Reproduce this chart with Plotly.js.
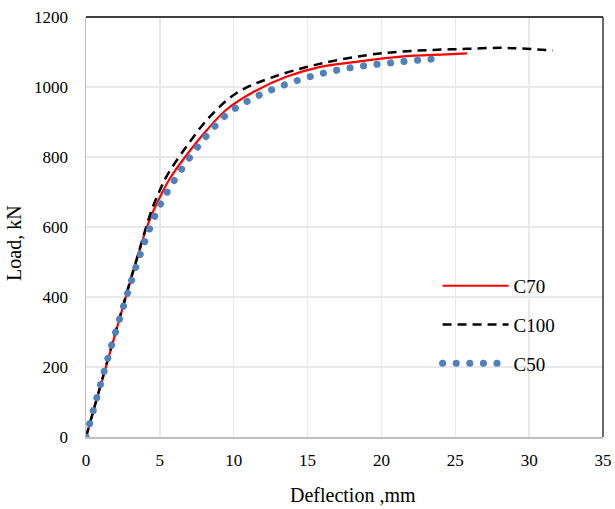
<!DOCTYPE html>
<html>
<head>
<meta charset="utf-8">
<script src="https://cdn.plot.ly/plotly-3.0.1.min.js"></script>
<style>
  body { margin: 0; background: #fff; }
  #plotdiv { width: 615px; height: 509px; }
  /* Excel style round dots for the C50 curve */
  .scatterlayer .trace:nth-of-type(3) path.js-line,
  .legend .groups:nth-of-type(3) path.js-line,
  .legend .traces:nth-of-type(3) path.js-line { stroke-linecap: round; }
</style>
</head>
<body>
<div id="plotdiv"></div>
<script>
// C70 (red solid)
var c70_x = [0, 1, 2, 3, 3.5, 4, 4.5, 5, 5.7, 6.8, 8.2, 9.5, 11.3, 13.6, 15.8, 18.3, 21.3, 24.4, 25.8];
var c70_y = [0, 148, 297, 445, 515, 585, 640, 685, 740, 805, 878, 935, 985, 1030, 1057, 1072, 1087, 1093, 1096];

// C100 (black dashed)
var c100_x = [0, 1, 2, 3, 3.5, 4, 4.5, 5, 5.5, 6.8, 8.4, 10.2, 12.5, 15.6, 19, 21.3, 23.5, 25.8, 28, 29.5, 31.6];
var c100_y = [0, 150, 300, 447, 518, 590, 655, 705, 748, 830, 916, 983, 1026, 1064, 1091, 1101, 1106, 1109, 1112, 1110, 1104];

// C50 (blue dotted)
var c50_x = [0, 0.5, 1.04, 1.6, 2.19, 2.8, 3.43, 4.11, 4.9, 5.87, 7.0, 8.21, 9.57, 11.22, 12.93, 14.71, 16.52, 18.37, 20.2, 22.05, 24.1];
var c50_y = [0, 77, 159, 243, 326, 409, 492, 573, 654, 726, 797, 863, 923, 966, 998, 1024, 1044, 1058, 1067, 1075, 1082];

var serif = 'Liberation Serif, Times New Roman, serif';

var data = [
    {
        x: c70_x, y: c70_y, name: 'C70', legendgroup: 'a',
        mode: 'lines', type: 'scatter',
        line: {color: '#ff0000', width: 2.2, shape: 'spline'}
    },
    {
        x: c100_x, y: c100_y, name: 'C100', legendgroup: 'b',
        mode: 'lines', type: 'scatter',
        line: {color: '#000000', width: 2.5, dash: '9px,6px', shape: 'spline'}
    },
    {
        x: c50_x, y: c50_y, name: 'C50', legendgroup: 'c',
        mode: 'lines', type: 'scatter',
        line: {color: '#4f81bd', width: 7, dash: '0.1px,13.5px', shape: 'spline'}
    }
];

var layout = {
    width: 615,
    height: 509,
    margin: {l: 86, r: 12, t: 17, b: 72},
    paper_bgcolor: '#ffffff',
    plot_bgcolor: '#ffffff',
    font: {family: serif, size: 17, color: '#000000'},
    showlegend: true,
    legend: {
        x: 0.68, y: 0.405, xanchor: 'left', yanchor: 'top',
        traceorder: 'grouped', tracegroupgap: 11,
        itemwidth: 66,
        bgcolor: 'rgba(0,0,0,0)',
        font: {family: serif, size: 19, color: '#000000'}
    },
    xaxis: {
        range: [0, 35], dtick: 5, tick0: 0,
        showgrid: true, gridcolor: '#e8e8e8', gridwidth: 1.5,
        zeroline: false,
        showline: true, linecolor: '#bfbfbf', linewidth: 1.5,
        ticks: '', ticklabelstandoff: 7,
        tickfont: {family: serif, size: 17, color: '#000000'}
    },
    yaxis: {
        range: [0, 1200], dtick: 200, tick0: 0,
        showgrid: true, gridcolor: '#e8e8e8', gridwidth: 1.5,
        zeroline: false,
        showline: true, linecolor: '#bfbfbf', linewidth: 1.5,
        ticks: '', ticklabelstandoff: 13,
        tickfont: {family: serif, size: 17, color: '#000000'}
    },
    annotations: [
        {text: 'Deflection ,mm', xref: 'paper', yref: 'paper', x: 0.516, y: -0.137,
         xanchor: 'center', yanchor: 'middle', showarrow: false,
         font: {family: serif, size: 20, color: '#000000'}},
        {text: 'Load, kN', xref: 'paper', yref: 'paper', x: -0.139, y: 0.4625,
         xanchor: 'center', yanchor: 'middle', showarrow: false, textangle: -90,
         font: {family: serif, size: 20, color: '#000000'}}
    ],
    shapes: [
        {type: 'line', xref: 'paper', yref: 'paper', x0: 0, x1: 1, y0: 1, y1: 1,
         line: {color: '#000000', width: 1.5}},
        {type: 'line', xref: 'paper', yref: 'paper', x0: 1, x1: 1, y0: 0, y1: 1,
         line: {color: '#3a3a3a', width: 1.5}}
    ]
};

Plotly.newPlot('plotdiv', data, layout, {displayModeBar: false, staticPlot: true});
</script>
</body>
</html>
